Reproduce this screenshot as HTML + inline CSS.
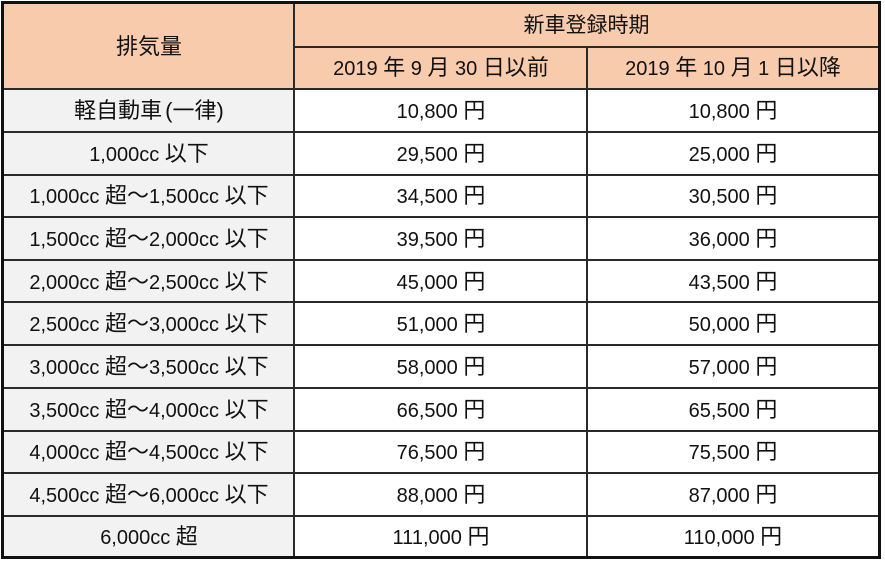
<!DOCTYPE html>
<html>
<head>
<meta charset="utf-8">
<style>
  html,body{margin:0;padding:0;background:#fff;}
  body{width:885px;height:563px;position:relative;overflow:hidden;
    font-family:"Liberation Sans","Noto Sans CJK JP",sans-serif;color:#111;}
  .c{position:absolute;display:flex;align-items:center;justify-content:center;
    font-size:20px;white-space:nowrap;line-height:1;}
  .k{font-size:22px;}
  .h{position:absolute;background:#2a2a2a;height:2px;}
  .v{position:absolute;background:#2a2a2a;width:2px;}
  .bg{position:absolute;}
</style>
</head>
<body>
<!-- backgrounds -->
<div class="bg" style="left:3px;top:3px;width:876px;height:87px;background:#F8CBAD;"></div>
<div class="bg" style="left:3px;top:89px;width:292px;height:468px;background:#F2F2F2;"></div>

<!-- header text -->
<div class="c" style="left:4px;top:4px;width:290px;height:85px;"><span class="k">排気量</span></div>
<div class="c" style="left:295px;top:4px;width:583px;height:43px;"><span class="k" style="font-size:21px">新車登録時期</span></div>
<div class="c" style="left:295px;top:47px;width:292px;height:42px;"><span>2019 <span class="k">年</span> 9 <span class="k">月</span> 30 <span class="k">日以前</span></span></div>
<div class="c" style="left:588px;top:47px;width:290px;height:42px;"><span>2019 <span class="k">年</span> 10 <span class="k">月</span> 1 <span class="k">日以降</span></span></div>

<!-- rows -->
<div class="c" style="left:4px;top:89px;width:290px;height:43px;"><span class="k">軽自動車<span style="margin-left:3px">(</span>一律)</span></div>
<div class="c" style="left:295px;top:89px;width:292px;height:43px;"><span>10,800 <span class="k">円</span></span></div>
<div class="c" style="left:588px;top:89px;width:290px;height:43px;"><span>10,800 <span class="k">円</span></span></div>

<div class="c" style="left:4px;top:132px;width:290px;height:43px;"><span>1,000cc <span class="k">以下</span></span></div>
<div class="c" style="left:295px;top:132px;width:292px;height:43px;"><span>29,500 <span class="k">円</span></span></div>
<div class="c" style="left:588px;top:132px;width:290px;height:43px;"><span>25,000 <span class="k">円</span></span></div>

<div class="c" style="left:4px;top:175px;width:290px;height:42px;"><span>1,000cc <span class="k">超～</span>1,500cc <span class="k">以下</span></span></div>
<div class="c" style="left:295px;top:175px;width:292px;height:42px;"><span>34,500 <span class="k">円</span></span></div>
<div class="c" style="left:588px;top:175px;width:290px;height:42px;"><span>30,500 <span class="k">円</span></span></div>

<div class="c" style="left:4px;top:217px;width:290px;height:43px;"><span>1,500cc <span class="k">超～</span>2,000cc <span class="k">以下</span></span></div>
<div class="c" style="left:295px;top:217px;width:292px;height:43px;"><span>39,500 <span class="k">円</span></span></div>
<div class="c" style="left:588px;top:217px;width:290px;height:43px;"><span>36,000 <span class="k">円</span></span></div>

<div class="c" style="left:4px;top:260px;width:290px;height:43px;"><span>2,000cc <span class="k">超～</span>2,500cc <span class="k">以下</span></span></div>
<div class="c" style="left:295px;top:260px;width:292px;height:43px;"><span>45,000 <span class="k">円</span></span></div>
<div class="c" style="left:588px;top:260px;width:290px;height:43px;"><span>43,500 <span class="k">円</span></span></div>

<div class="c" style="left:4px;top:302px;width:290px;height:43px;"><span>2,500cc <span class="k">超～</span>3,000cc <span class="k">以下</span></span></div>
<div class="c" style="left:295px;top:302px;width:292px;height:43px;"><span>51,000 <span class="k">円</span></span></div>
<div class="c" style="left:588px;top:302px;width:290px;height:43px;"><span>50,000 <span class="k">円</span></span></div>

<div class="c" style="left:4px;top:345px;width:290px;height:43px;"><span>3,000cc <span class="k">超～</span>3,500cc <span class="k">以下</span></span></div>
<div class="c" style="left:295px;top:345px;width:292px;height:43px;"><span>58,000 <span class="k">円</span></span></div>
<div class="c" style="left:588px;top:345px;width:290px;height:43px;"><span>57,000 <span class="k">円</span></span></div>

<div class="c" style="left:4px;top:388px;width:290px;height:43px;"><span>3,500cc <span class="k">超～</span>4,000cc <span class="k">以下</span></span></div>
<div class="c" style="left:295px;top:388px;width:292px;height:43px;"><span>66,500 <span class="k">円</span></span></div>
<div class="c" style="left:588px;top:388px;width:290px;height:43px;"><span>65,500 <span class="k">円</span></span></div>

<div class="c" style="left:4px;top:431px;width:290px;height:42px;"><span>4,000cc <span class="k">超～</span>4,500cc <span class="k">以下</span></span></div>
<div class="c" style="left:295px;top:431px;width:292px;height:42px;"><span>76,500 <span class="k">円</span></span></div>
<div class="c" style="left:588px;top:431px;width:290px;height:42px;"><span>75,500 <span class="k">円</span></span></div>

<div class="c" style="left:4px;top:473px;width:290px;height:43px;"><span>4,500cc <span class="k">超～</span>6,000cc <span class="k">以下</span></span></div>
<div class="c" style="left:295px;top:473px;width:292px;height:43px;"><span>88,000 <span class="k">円</span></span></div>
<div class="c" style="left:588px;top:473px;width:290px;height:43px;"><span>87,000 <span class="k">円</span></span></div>

<div class="c" style="left:4px;top:516px;width:290px;height:41px;"><span>6,000cc <span class="k">超</span></span></div>
<div class="c" style="left:295px;top:516px;width:292px;height:41px;"><span>111,000 <span class="k">円</span></span></div>
<div class="c" style="left:588px;top:516px;width:290px;height:41px;"><span>110,000 <span class="k">円</span></span></div>

<!-- inner lines -->
<div class="h" style="left:294px;top:46px;width:585px;"></div>
<div class="h" style="left:3px;top:88px;width:876px;"></div>
<div class="h" style="left:3px;top:131px;width:876px;"></div>
<div class="h" style="left:3px;top:174px;width:876px;"></div>
<div class="h" style="left:3px;top:216px;width:876px;"></div>
<div class="h" style="left:3px;top:259px;width:876px;"></div>
<div class="h" style="left:3px;top:301px;width:876px;"></div>
<div class="h" style="left:3px;top:344px;width:876px;"></div>
<div class="h" style="left:3px;top:387px;width:876px;"></div>
<div class="h" style="left:3px;top:430px;width:876px;"></div>
<div class="h" style="left:3px;top:472px;width:876px;"></div>
<div class="h" style="left:3px;top:515px;width:876px;"></div>
<div class="v" style="left:293px;top:3px;height:555px;"></div>
<div class="v" style="left:586px;top:46px;height:512px;"></div>

<!-- outer border -->
<div style="position:absolute;left:1px;top:1px;width:874px;height:552px;border:3px solid #111;"></div>
</body>
</html>
